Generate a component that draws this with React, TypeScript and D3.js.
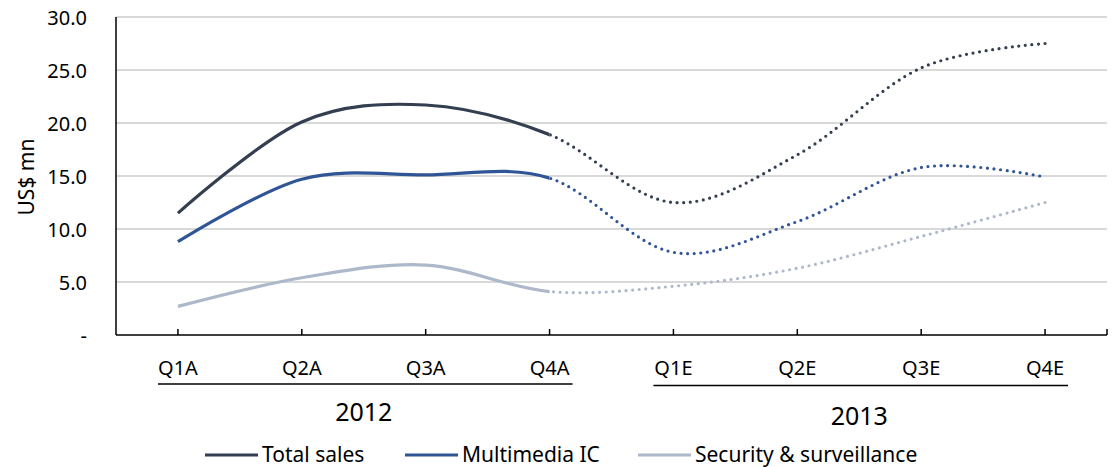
import React from "react";
import * as d3 from "d3";

const categories = ["Q1A", "Q2A", "Q3A", "Q4A", "Q1E", "Q2E", "Q3E", "Q4E"];
const totalSales = [11.5, 20.1, 21.7, 18.9, 12.5, 17.0, 25.2, 27.5];
const multimediaIC = [8.8, 14.7, 15.1, 14.8, 7.8, 10.7, 15.8, 14.9];
const security = [2.7, 5.4, 6.6, 4.1, 4.6, 6.3, 9.3, 12.5];
const yTicks = [0, 5, 10, 15, 20, 25, 30];
const years = [
  { label: "2012", from: 0, to: 3 },
  { label: "2013", from: 4, to: 7 },
];

const seriesList = [
  { name: "Total sales", values: totalSales, color: "#333f50" },
  { name: "Multimedia IC", values: multimediaIC, color: "#2f5597" },
  { name: "Security & surveillance", values: security, color: "#adb9ca" },
];

const W = 1113;
const H = 467;
const left = 116;
const right = 1107;
const top = 17;
const bottom = 335;
const font = "'Noto Sans', 'Open Sans', sans-serif";

export default function App() {
  const x = d3.scaleBand<string>().domain(categories).range([left, right]).padding(0);
  const cx = (c: string) => (x(c) as number) + x.bandwidth() / 2;
  const y = d3.scaleLinear().domain([0, 30]).range([bottom, top]);
  const line = d3
    .line<number>()
    .x((_, i) => cx(categories[i]))
    .y((d) => y(d))
    .curve(d3.curveCatmullRom.alpha(0));
  const splitX = cx(categories[3]);

  const legendX = [205, 405, 638];

  return (
    <svg width={W} height={H} style={{ position: "absolute", left: 0, top: 0 }}>
      <defs>
        <clipPath id="solidClip">
          <rect x={0} y={0} width={splitX} height={H} />
        </clipPath>
        <clipPath id="dotClip">
          <rect x={splitX} y={0} width={W - splitX} height={H} />
        </clipPath>
      </defs>
      <rect width={W} height={H} fill="#fff" />
      {yTicks.map((t) =>
        t === 0 ? null : (
          <line key={t} x1={left} x2={right} y1={y(t)} y2={y(t)} stroke="#d9d9d9" strokeWidth={2} />
        )
      )}
      {yTicks.map((t) => (
        <text
          key={"l" + t}
          x={87}
          y={y(t) + 7.5}
          textAnchor="end"
          fontFamily={font}
          fontSize={20}
          fill="#000"
        >
          {t === 0 ? "-" : t.toFixed(1)}
        </text>
      ))}
      <text
        transform={`translate(34,177) rotate(-90)`}
        textAnchor="middle"
        fontFamily={font}
        fontSize={21}
        fill="#000"
      >
        US$ mn
      </text>
      {seriesList.map((s) => (
        <g key={s.name}>
          <path
            d={line(s.values) || ""}
            fill="none"
            stroke={s.color}
            strokeWidth={3.2}
            clipPath="url(#solidClip)"
          />
          <path
            d={line(s.values) || ""}
            fill="none"
            stroke={s.color}
            strokeWidth={3.2}
            strokeDasharray="0 6.6"
            strokeLinecap="round"
            clipPath="url(#dotClip)"
          />
        </g>
      ))}
      <line x1={left} x2={left} y1={top} y2={bottom} stroke="#000" strokeWidth={1.5} />
      <line x1={left} x2={right} y1={bottom} y2={bottom} stroke="#000" strokeWidth={1.5} />
      {categories.map((c) => (
        <line key={"t" + c} x1={cx(c)} x2={cx(c)} y1={bottom} y2={bottom - 6} stroke="#000" strokeWidth={1.5} />
      ))}
      <line x1={right} x2={right} y1={bottom} y2={bottom - 6} stroke="#000" strokeWidth={1.5} />
      {categories.map((c) => (
        <text key={"c" + c} x={cx(c)} y={375} textAnchor="middle" fontFamily={font} fontSize={20} fill="#000">
          {c}
        </text>
      ))}
      {years.map((yr, i) => {
        const x1 = cx(categories[yr.from]) - 20;
        const x2 = cx(categories[yr.to]) + 23;
        return (
          <g key={yr.label}>
            <line x1={x1} x2={x2} y1={384 + i * 1.5} y2={384 + i * 1.5} stroke="#000" strokeWidth={1.3} />
            <text
              x={(cx(categories[yr.from]) + cx(categories[yr.to])) / 2}
              y={421 + i * 4}
              textAnchor="middle"
              fontFamily={font}
              fontSize={25}
              fill="#000"
            >
              {yr.label}
            </text>
          </g>
        );
      })}
      {seriesList.map((s, i) => (
        <g key={"lg" + s.name}>
          <line x1={legendX[i]} x2={legendX[i] + 53} y1={455} y2={455} stroke={s.color} strokeWidth={3.2} />
          <text x={legendX[i] + 57} y={462} fontFamily={font} fontSize={21} fill="#000">
            {s.name}
          </text>
        </g>
      ))}
    </svg>
  );
}
